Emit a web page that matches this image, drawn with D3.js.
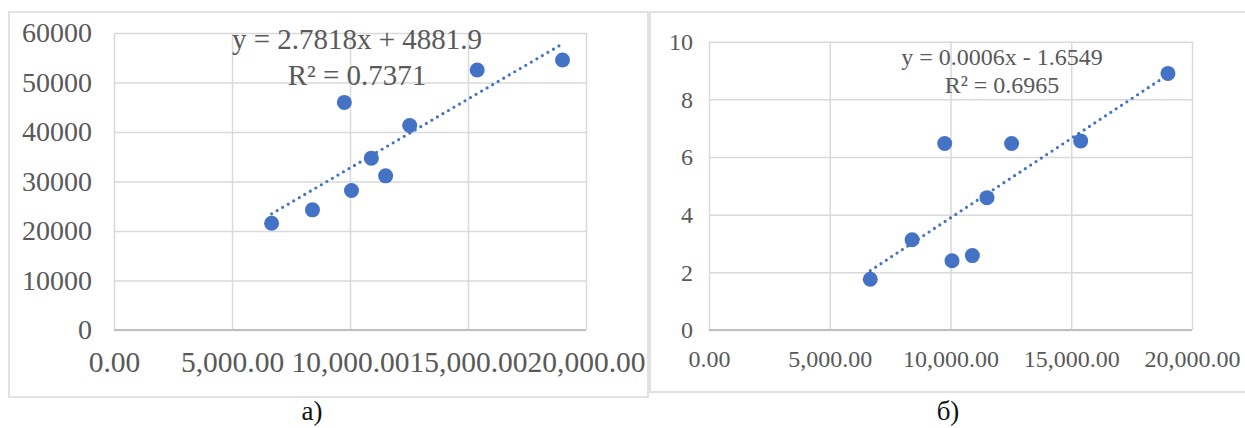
<!DOCTYPE html>
<html>
<head>
<meta charset="utf-8">
<script src="https://cdn.jsdelivr.net/npm/d3@7/dist/d3.min.js"></script>
<style>
  html, body { margin: 0; padding: 0; background: #fff; }
  svg { display: block; font-family: "Liberation Serif", "Times New Roman", serif; }
</style>
</head>
<body>
<svg id="chart" width="1245" height="428"></svg>
<script>
// Shared x values (both panels use the same observations)
const xValues = [6678, 8410, 9760, 10063, 10905, 11510, 12530, 15390, 19005];
// Panel а) y values
const seriesA = [21573, 24270, 45978, 28180, 34719, 31146, 41326, 52517, 54539];
// Panel б) y values
const seriesB = [1.76, 3.13, 6.47, 2.40, 2.58, 4.59, 6.47, 6.56, 8.90];

const xTicks = [0, 5000, 10000, 15000, 20000];
const yTicksA = [0, 10000, 20000, 30000, 40000, 50000, 60000];
const yTicksB = [0, 2, 4, 6, 8, 10];

const equationA = ["y = 2.7818x + 4881.9", "R² = 0.7371"];
const equationB = ["y = 0.0006x - 1.6549", "R² = 0.6965"];
const captions = ["а)", "б)"];

const svg = d3.select("#chart");
const BLUE = "#4472C4";
const GRID = "#d9d9d9";
const AXIS = "#bfbfbf";
const TEXT = "#595959";

// Least-squares linear fit
function linearFit(xs, ys) {
  const n = xs.length;
  const mx = d3.mean(xs), my = d3.mean(ys);
  let sxy = 0, sxx = 0;
  for (let i = 0; i < n; i++) {
    sxy += (xs[i] - mx) * (ys[i] - my);
    sxx += (xs[i] - mx) ** 2;
  }
  const slope = sxy / sxx;
  return { slope, intercept: my - slope * mx };
}

function drawPanel(cfg) {
  const g = svg.append("g");

  // panel frame
  g.append("rect")
    .attr("x", cfg.frame[0]).attr("y", cfg.frame[1])
    .attr("width", cfg.frame[2]).attr("height", cfg.frame[3])
    .attr("fill", "none").attr("stroke", GRID).attr("stroke-width", 1.5);

  const x = d3.scaleLinear().domain([0, 20000]).range([cfg.left, cfg.right]);
  const y = d3.scaleLinear().domain([0, cfg.yMax]).range([cfg.bottom, cfg.top]);

  // horizontal gridlines + y labels
  const yAxis = g.append("g")
    .attr("transform", `translate(${cfg.left},0)`)
    .call(d3.axisLeft(y).tickValues(cfg.yTicks).tickFormat(d3.format("d"))
      .tickSize(-(cfg.right - cfg.left)).tickPadding(cfg.yPad));
  yAxis.select(".domain").remove();
  yAxis.selectAll(".tick line").attr("stroke", GRID).attr("stroke-width", 1.5);
  yAxis.selectAll(".tick text").attr("fill", TEXT)
    .style("font-size", cfg.font + "px").style("font-family", "Liberation Serif");

  // vertical gridlines + x labels
  const xAxis = g.append("g")
    .attr("transform", `translate(0,${cfg.bottom})`)
    .call(d3.axisBottom(x).tickValues(xTicks).tickFormat(d3.format(",.2f"))
      .tickSize(-(cfg.bottom - cfg.top)).tickPadding(cfg.xPad));
  xAxis.select(".domain").remove();
  xAxis.selectAll(".tick line").attr("stroke", GRID).attr("stroke-width", 1.5);
  xAxis.selectAll(".tick text").attr("fill", TEXT)
    .style("font-size", cfg.xFont + "px").style("font-family", "Liberation Serif");

  // horizontal axis line
  g.append("line")
    .attr("x1", cfg.left).attr("x2", cfg.right)
    .attr("y1", y(0)).attr("y2", y(0))
    .attr("stroke", AXIS).attr("stroke-width", 2);

  // linear trendline (dotted)
  const fit = linearFit(xValues, cfg.values);
  const [xmin, xmax] = d3.extent(xValues);
  g.append("path")
    .datum([xmin, xmax])
    .attr("d", d3.line().x(d => x(d)).y(d => y(fit.slope * d + fit.intercept)))
    .attr("fill", "none").attr("stroke", BLUE)
    .attr("stroke-width", 3.2).attr("stroke-linecap", "round")
    .attr("stroke-dasharray", "0 6.4");

  // points
  g.selectAll("circle.pt")
    .data(xValues.map((v, i) => [v, cfg.values[i]]))
    .join("circle").attr("class", "pt")
    .attr("cx", d => x(d[0])).attr("cy", d => y(d[1]))
    .attr("r", cfg.r).attr("fill", BLUE);

  // trendline equation
  const eq = g.append("text")
    .attr("text-anchor", "middle").attr("fill", TEXT)
    .style("font-size", cfg.eqFont + "px");
  cfg.equation.forEach((line, i) => {
    eq.append("tspan").attr("x", cfg.eqX).attr("y", cfg.eqY[i]).text(line);
  });

  // caption under the panel
  g.append("text")
    .attr("x", cfg.captionX).attr("y", 420)
    .attr("text-anchor", "middle").attr("fill", "#111")
    .style("font-size", "27px").text(cfg.caption);
}

drawPanel({
  frame: [9, 12, 639, 385],
  left: 114, right: 586, top: 33, bottom: 330,
  yMax: 60000, yTicks: yTicksA, values: seriesA,
  font: 28, xFont: 29.5, yPad: 22, xPad: 21, r: 7.5,
  equation: equationA, eqX: 357, eqY: [49, 85], eqFont: 29,
  caption: captions[0], captionX: 312
});

drawPanel({
  frame: [650, 12, 610, 380],
  left: 709, right: 1192, top: 41.7, bottom: 330,
  yMax: 10, yTicks: yTicksB, values: seriesB,
  font: 24, xFont: 24, yPad: 16, xPad: 20, r: 7.5,
  equation: equationB, eqX: 1002, eqY: [65, 93], eqFont: 24,
  caption: captions[1], captionX: 948
});
</script>
</body>
</html>
